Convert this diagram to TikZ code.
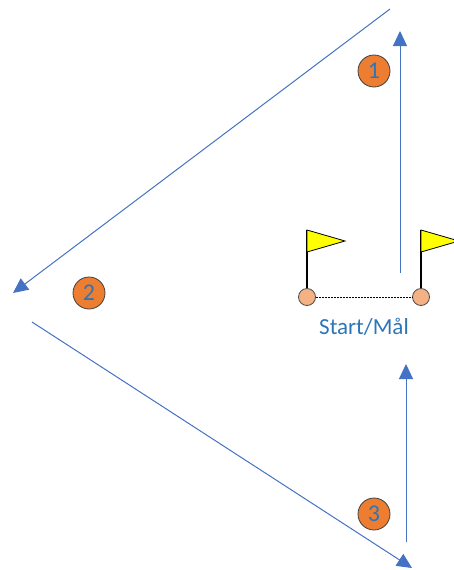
\documentclass[tikz,border=0pt]{standalone}
\usepackage{fontspec}
\setmainfont{Carlito}
\usetikzlibrary{arrows.meta}
\definecolor{lineblue}{RGB}{68,114,196}
\definecolor{textblue}{RGB}{46,117,182}
\definecolor{numorange}{RGB}{237,125,49}
\definecolor{ballfill}{RGB}{244,177,131}
\definecolor{flagyellow}{RGB}{255,255,0}
\tikzset{
  route/.style={draw=lineblue, line width=1pt},
  routearrow/.style={route, -{Triangle[length=15pt,width=14pt]}},
  numcircle/.style={circle, fill=numorange, draw=black!75, line width=0.8pt, minimum size=32pt, inner sep=0pt, text=textblue, font=\fontsize{24}{26}\selectfont},
  ball/.style={circle, fill=ballfill, draw=black!70, line width=0.8pt, minimum size=17pt, inner sep=0pt},
  pole/.style={draw=black, line width=1.8pt},
  flag/.style={fill=flagyellow, draw=black, line width=0.8pt},
}
\begin{document}
\begin{tikzpicture}[x=1pt,y=-1pt]
\useasboundingbox (0,0) rectangle (453,570);
% coordinates
\coordinate (a1s) at (400,273);
\coordinate (a1e) at (400,31);
\coordinate (l1s) at (390,9);
\coordinate (l1e) at (13,293);
\coordinate (l2s) at (32,322);
\coordinate (l2e) at (412,568);
\coordinate (a3s) at (406,542);
\coordinate (a3e) at (406,364);
% route lines
\draw[routearrow] (a1s) -- (a1e);
\draw[routearrow] (l1s) -- (l1e);
\draw[routearrow] (l2s) -- (l2e);
\draw[routearrow] (a3s) -- (a3e);
% number circles
\node[numcircle] (n1) at (374,71) {1};
\node[numcircle] (n2) at (89,293) {2};
\node[numcircle] (n3) at (374,514) {3};
% flags
\coordinate (p1t) at (307,230);
\coordinate (p2t) at (421,230);
\node[ball] (b1) at (307,297) {};
\node[ball] (b2) at (421,297) {};
\draw[pole] (p1t) -- (b1.north);
\draw[pole] (p2t) -- (b2.north);
\draw[flag] (307,230) -- (345,241) -- (307,252) -- cycle;
\draw[flag] (421,230) -- (459,241) -- (421,252) -- cycle;
\draw[black, line width=1pt, dash pattern=on 2pt off 1pt] (b1.east) -- (b2.west);
\node[text=textblue, font=\fontsize{23}{25}\selectfont] (lbl) at (364,327) {Start/Mål};
\end{tikzpicture}
\end{document}
